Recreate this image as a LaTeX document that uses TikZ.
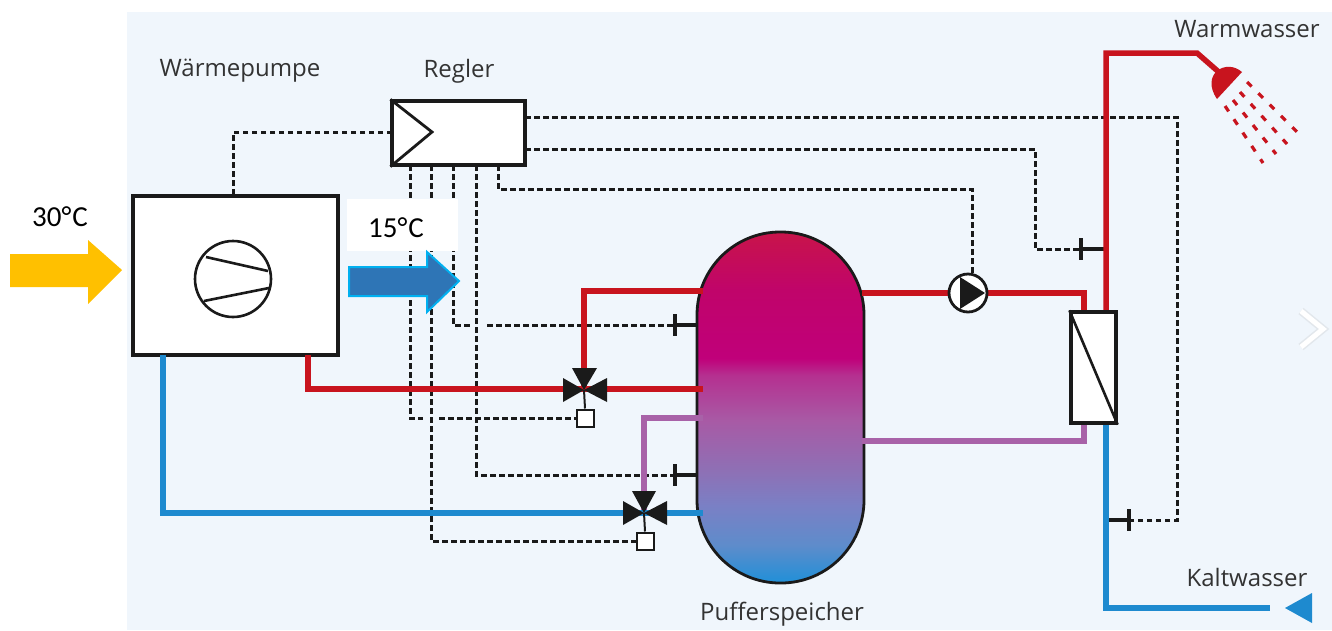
\documentclass[tikz,border=0pt]{standalone}
\usepackage{fontspec}
\setmainfont{Open Sans}
\newfontfamily\calib{Carlito}
\usetikzlibrary{calc}
\definecolor{panelbg}{HTML}{F0F6FC}
\definecolor{hotred}{HTML}{C8141E}
\definecolor{coldblue}{HTML}{1E8ACF}
\definecolor{midpurple}{HTML}{A862A8}
\definecolor{inkblack}{HTML}{1A1A1A}
\definecolor{labelgray}{HTML}{333333}
\definecolor{ambr}{HTML}{FFC000}
\definecolor{arrblue}{HTML}{2E75B6}
\definecolor{arredge}{HTML}{00B0F0}
\definecolor{chevr}{HTML}{FFFFFF}
\definecolor{chevredge}{HTML}{E2E7EC}
\definecolor{tka}{HTML}{2090D8}
\definecolor{tkb}{HTML}{5E8CCB}
\definecolor{tkc}{HTML}{7A80C5}
\definecolor{tkd}{HTML}{8E70B5}
\definecolor{tke}{HTML}{A85AA5}
\definecolor{tkf}{HTML}{B53090}
\definecolor{tkg}{HTML}{C0007A}
\definecolor{tkh}{HTML}{C0046A}
\definecolor{tki}{HTML}{C8144A}
\pgfdeclareverticalshading{tankshade}{100bp}{
 color(0bp)=(tka);
 color(25bp)=(tka);
 color(30.4bp)=(tkb);
 color(36bp)=(tkc);
 color(41bp)=(tkd);
 color(48.2bp)=(tke);
 color(54.6bp)=(tkf);
 color(57bp)=(tkg);
 color(66.7bp)=(tkh);
 color(75bp)=(tki);
 color(100bp)=(tki)}
\tikzset{
 x=1pt,y=-1pt,
 ctrl/.style={line width=3pt,inkblack,dash pattern=on 5.5pt off 3.5pt},
 pipe/.style={line width=5.5pt,line join=miter},
 hotpipe/.style={pipe,draw=hotred},
 coldpipe/.style={pipe,draw=coldblue},
 midpipe/.style={pipe,draw=midpurple},
 unitbox/.style={draw=inkblack,line width=3.2pt,fill=white,inner sep=0pt},
 lbl/.style={text=labelgray,font=\fontsize{24}{28}\selectfont,inner sep=0pt},
 templbl/.style={text=black,font=\calib\fontsize{29}{32}\selectfont,inner sep=0pt},
 sensorbar/.style={line width=4.6pt,inkblack},
 sensortick/.style={line width=3.2pt,inkblack},
 valvewedge/.style={fill=inkblack},
 valvesq/.style={draw=inkblack,line width=2pt,fill=white,minimum size=17pt,inner sep=0pt},
 drops/.style={line width=3.2pt,hotred,dash pattern=on 6.5pt off 9.5pt},
}
\begin{document}
\begin{tikzpicture}
\useasboundingbox (0,0) rectangle (1332,630);
\fill[white] (0,0) rectangle (1332,630);
\fill[panelbg] (127,12) rectangle (1332,630);
% tank
\node[draw=inkblack,line width=2.8pt,shade,shading=tankshade,rounded corners=83pt,minimum width=167pt,minimum height=351pt,inner sep=0pt] (tank) at (780.5,407.5) {};
% ports
\coordinate (rL) at (392,132);
\coordinate (rA) at (410,165);
\coordinate (rB) at (431,165);
\coordinate (rC) at (453,165);
\coordinate (rD) at (476,165);
\coordinate (rE) at (498,165);
\coordinate (rF) at (525,117);
\coordinate (rG) at (525,149);
\coordinate (hpT) at (233,196);
\coordinate (pumpT) at (972,276);
\coordinate (s1) at (675,325);
\coordinate (s1b) at (697,325);
\coordinate (s2) at (675,475);
\coordinate (s2b) at (697,475);
\coordinate (s3) at (1081,249);
\coordinate (s3b) at (1104,249);
\coordinate (s4) at (1129,520);
\coordinate (s4b) at (1108,520);
\coordinate (gapAa) at (423,418);
\coordinate (gapAb) at (439,418);
\coordinate (gapBa) at (470,325);
\coordinate (gapBb) at (487,325);
\coordinate (v1) at (584,390);
\coordinate (v2) at (644,513);
\coordinate (e98) at (498,189);
\coordinate (e972) at (972,189);
\coordinate (f1177) at (1177,117);
\coordinate (f1177b) at (1177,520);
\coordinate (g1035) at (1035,149);
\coordinate (g1035b) at (1035,249);
\node[valvesq] (sq1) at (585,418) {};
\node[valvesq] (sq2) at (645,541) {};
% control lines
\draw[ctrl] (rL) -| (hpT);
\draw[ctrl] (rA) |- (gapAa);
\draw[ctrl] (gapAb) -- (sq1.west);
\draw[ctrl] (rB) |- (sq2.west);
\draw[ctrl] (rC) |- (gapBa);
\draw[ctrl] (gapBb) -- (s1);
\draw[ctrl] (rD) |- (s2);
\draw[ctrl] (rE) -- (e98) -- (e972) -- (pumpT);
\draw[ctrl] (rF) -- (f1177) -- (f1177b) -- (s4);
\draw[ctrl] (rG) -- (g1035) -- (g1035b) -- (s3);
% sensors
\draw[sensorbar] (s1) -- (s1b);
\draw[sensortick] ($(s1)+(0,-11)$) -- ($(s1)+(0,11)$);
\draw[sensorbar] (s2) -- (s2b);
\draw[sensortick] ($(s2)+(0,-11)$) -- ($(s2)+(0,11)$);
\draw[sensorbar] (s3) -- (s3b);
\draw[sensortick] ($(s3)+(0,-11)$) -- ($(s3)+(0,11)$);
\draw[sensorbar] (s4) -- (s4b);
\draw[sensortick] ($(s4)+(0,-11)$) -- ($(s4)+(0,11)$);
% heat pump & regler
\node[unitbox,minimum width=205pt,minimum height=159pt] (hp) at (235.5,275.5) {};
\node[unitbox,minimum width=133pt,minimum height=64pt] (regler) at (458.5,133) {};
\draw[line width=2.8pt,inkblack] (regler.north west) -- (432,132) -- (regler.south west);
\node[draw=inkblack,line width=2.6pt,circle,minimum size=76pt,inner sep=0pt] (comp) at (233,279) {};
\draw[line width=2.6pt,inkblack] (206,257) -- (268,271);
\draw[line width=2.6pt,inkblack] (204,301) -- (269,288);
% pump and exchanger nodes
\coordinate (pumpC) at (968,293);
\coordinate (hxRedA) at (1084,311);
\coordinate (hxRedB) at (1106,311);
\coordinate (hxPurp) at (1084,423);
\coordinate (hxBlue) at (1106,423);
\coordinate (hpRed) at (308,355);
\coordinate (hpBlue) at (163,355);
\coordinate (tkA) at (703,291);
\coordinate (tkB) at (703,389);
\coordinate (tkC) at (703,418);
\coordinate (tkD) at (703,513);
\coordinate (tkE) at (862,293);
\coordinate (tkF) at (862,441);
\coordinate (showerKnee) at (1197,53);
\coordinate (showerIn) at (1221,74);
\coordinate (coldEnd) at (1270,608);
% pipes
\draw[hotpipe] (tkA) -| (v1);
\draw[hotpipe] (hpRed) |- (tkB);
\draw[midpipe] (tkC) -| (v2);
\draw[coldpipe] (hpBlue) |- (tkD);
\draw[hotpipe] (tkE) -| (hxRedA);
\draw[midpipe] (tkF) -| (hxPurp);
\draw[hotpipe] (hxRedB) |- (showerKnee) -- (showerIn);
\draw[coldpipe] (hxBlue) |- (coldEnd);
% valves
\draw[line width=2pt,inkblack] (v1) -- (sq1.north);
\fill[valvewedge] (v1) -- (563,378) -- (563,402) -- cycle;
\fill[valvewedge] (v1) -- (607,378) -- (607,402) -- cycle;
\fill[valvewedge] (v1) -- (572,368) -- (597,368) -- cycle;
\draw[line width=2pt,inkblack] (v2) -- (sq2.north);
\fill[valvewedge] (v2) -- (623,501) -- (623,525) -- cycle;
\fill[valvewedge] (v2) -- (667,501) -- (667,525) -- cycle;
\fill[valvewedge] (v2) -- (632,491) -- (656,491) -- cycle;
% pump
\node[draw=inkblack,line width=2.8pt,fill=white,circle,minimum size=38pt,inner sep=0pt] (pump) at (pumpC) {};
\fill[inkblack] (960,277) -- (985,293) -- (960,309) -- cycle;
% exchanger
\node[unitbox,minimum width=45pt,minimum height=111pt] (hx) at (1093.5,367.5) {};
\draw[line width=2.6pt,inkblack] (hx.north west) -- (hx.south east);
% shower
\fill[hotred] (1242,72) .. controls (1226,58) and (1200,74) .. (1217,99) -- cycle;
\draw[drops] (1247,82) -- (1298,133);
\draw[drops] (1240,92) -- (1287,144);
\draw[drops] (1233,100) -- (1276,154);
\draw[drops] (1225,106) -- (1263,163);
% cold inlet triangle
\fill[coldblue] (1285,608) -- (1312,593) -- (1312,623) -- cycle;
% chevron
\draw[chevredge,line width=8pt,line join=miter] (1301,311) -- (1323,329) -- (1301,347);
\draw[chevr,line width=5pt,line join=miter] (1301,311) -- (1323,329) -- (1301,347);
% arrows & labels
\fill[white] (347,199) rectangle (458,251);
\fill[ambr] (10,254) -- (88,254) -- (88,240) -- (122,270) -- (88,304) -- (88,287) -- (10,287) -- cycle;
\draw[draw=arredge,line width=2pt,fill=arrblue] (349,267) -- (427,267) -- (427,252) -- (459,281) -- (427,312) -- (427,296) -- (349,296) -- cycle;
\node[templbl] (t30) at (60,217) {30°\kern1pt C};
\node[templbl] (t15) at (396,228) {15°\kern1pt C};
\node[lbl] (lhp) at (240,71) {Wärmepumpe};
\node[lbl] (lreg) at (459,71) {Regler};
\node[lbl] (lww) at (1247,29) {Warmwasser};
\node[lbl] (lkw) at (1247,577) {Kaltwasser};
\node[lbl] (lps) at (782,614) {Pufferspeicher};
\end{tikzpicture}
\end{document}
